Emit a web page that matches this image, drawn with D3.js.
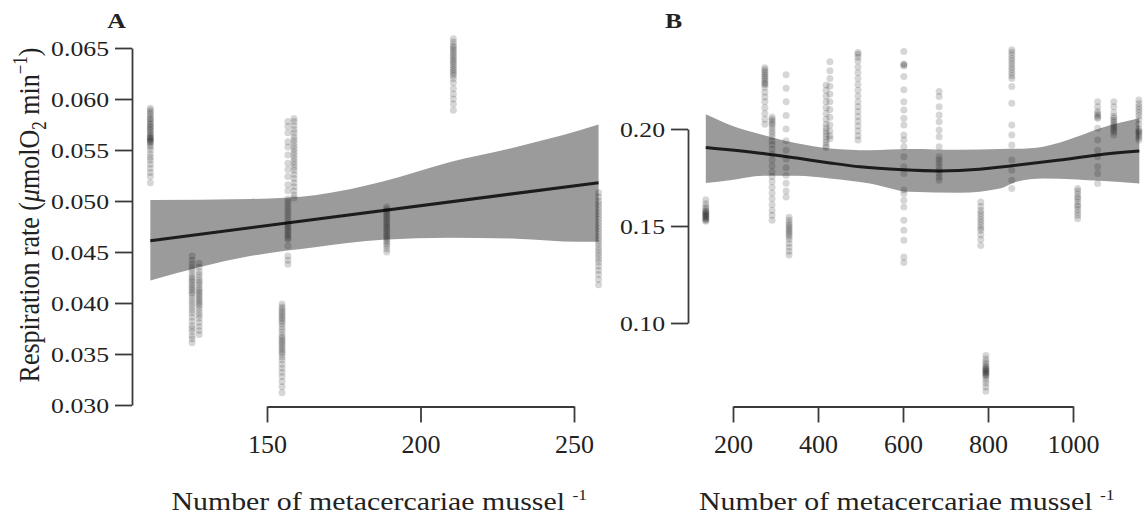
<!DOCTYPE html>
<html>
<head>
<meta charset="utf-8">
<script src="https://cdn.jsdelivr.net/npm/d3@7"></script>
<style>
  body { margin: 0; background: #fff; }
  text { font-family: "Liberation Serif", "Times New Roman", serif; fill: #222; }
</style>
</head>
<body>
<svg id="chart" width="1147" height="522"></svg>
<script>
// ---------- Panel A: respiration vs. metacercariae (linear fit) ----------
const aTicksY = [0.030, 0.035, 0.040, 0.045, 0.050, 0.055, 0.060, 0.065];
const aTicksX = [150, 200, 250];
const aGroupX = [112, 125.6, 127.9, 154.9, 156.8, 158.8, 189, 210.7, 258];
const aGroupY = [
  [0.0591,0.0589,0.0587,0.0585,0.0583,0.0581,0.0580,0.0578,0.0576,0.0575,0.0573,0.0572,0.0570,0.0569,0.0567,0.0566,0.0564,0.0563,0.0562,0.0561,0.0560,0.0559,0.0558,0.0557,0.0555,0.0553,0.0550,0.0546,0.0543,0.0540,0.0536,0.0532,0.0528,0.0524,0.0518],
  [0.0446,0.0442,0.0438,0.0435,0.0432,0.0429,0.0426,0.0424,0.0422,0.0420,0.0418,0.0416,0.0414,0.0412,0.0410,0.0408,0.0405,0.0402,0.0399,0.0396,0.0393,0.0390,0.0386,0.0382,0.0378,0.0375,0.0372,0.0368,0.0365,0.0361],
  [0.0439,0.0435,0.0431,0.0428,0.0425,0.0422,0.0420,0.0418,0.0415,0.0413,0.0411,0.0409,0.0407,0.0405,0.0403,0.0401,0.0399,0.0397,0.0394,0.0391,0.0388,0.0385,0.0381,0.0377,0.0373,0.0369],
  [0.0399,0.0396,0.0394,0.0392,0.0390,0.0388,0.0386,0.0384,0.0382,0.0380,0.0377,0.0374,0.0371,0.0368,0.0366,0.0364,0.0362,0.0360,0.0358,0.0356,0.0354,0.0352,0.0350,0.0347,0.0344,0.0340,0.0336,0.0332,0.0328,0.0323,0.0318,0.0312],
  [0.0578,0.0573,0.0567,0.0558,0.0553,0.0545,0.0537,0.0531,0.0524,0.0516,0.0510,0.0502,0.0499,0.0496,0.0493,0.0490,0.0487,0.0484,0.0481,0.0478,0.0476,0.0474,0.0472,0.0470,0.0468,0.0466,0.0464,0.0462,0.0456,0.0446,0.0442,0.0438],
  [0.0581,0.0578,0.0574,0.0570,0.0567,0.0563,0.0560,0.0557,0.0554,0.0551,0.0548,0.0545,0.0542,0.0539,0.0536,0.0533,0.0530,0.0526,0.0522,0.0518,0.0514,0.0510,0.0506,0.0503],
  [0.0494,0.0492,0.0490,0.0488,0.0486,0.0484,0.0482,0.0480,0.0478,0.0476,0.0474,0.0472,0.0470,0.0468,0.0466,0.0464,0.0462,0.0460,0.0458,0.0456,0.0453,0.0450],
  [0.0659,0.0656,0.0653,0.0651,0.0649,0.0647,0.0645,0.0643,0.0641,0.0639,0.0637,0.0635,0.0633,0.0631,0.0629,0.0627,0.0625,0.0623,0.0620,0.0616,0.0610,0.0605,0.0600,0.0595,0.0589],
  [0.0508,0.0504,0.0500,0.0497,0.0494,0.0491,0.0488,0.0485,0.0482,0.0479,0.0476,0.0473,0.0470,0.0467,0.0464,0.0461,0.0458,0.0455,0.0452,0.0449,0.0446,0.0443,0.0440,0.0436,0.0432,0.0428,0.0423,0.0418]
];
const aFitX = [112, 258];
const aFitY = [0.0461, 0.0518];
const aBandX  = [112,    144.5,  166.2,  187.7,  209.4,  231.2,  251.6,  258];
const aBandLo = [0.0422, 0.0446, 0.0455, 0.0462, 0.0464, 0.0463, 0.0460, 0.0460];
const aBandHi = [0.0501, 0.0502, 0.0506, 0.0519, 0.0538, 0.0553, 0.0569, 0.0575];

// ---------- Panel B: respiration vs. metacercariae (smooth fit) ----------
const bTicksY = [0.10, 0.15, 0.20];
const bTicksX = [200, 400, 600, 800, 1000];
const bGroupX = [136, 275, 292, 325, 332, 419, 428, 494, 602, 685, 783, 795, 856, 1011, 1058, 1096, 1155];
const bGroupY = [
  [0.1635,0.1615,0.1600,0.1590,0.1580,0.1575,0.1570,0.1565,0.1560,0.1555,0.1550,0.1545,0.1540,0.1535,0.1530,0.1525],
  [0.2316,0.2305,0.2295,0.2285,0.2275,0.2265,0.2255,0.2245,0.2235,0.2230,0.2215,0.2190,0.2165,0.2140,0.2110,0.2080,0.2050,0.2025],
  [0.2062,0.2050,0.2040,0.2030,0.2020,0.2005,0.1990,0.1975,0.1960,0.1940,0.1920,0.1895,0.1870,0.1840,0.1810,0.1780,0.1755,0.1730,0.1700,0.1670,0.1640,0.1610,0.1580,0.1555,0.1530],
  [0.2279,0.2210,0.2140,0.2070,0.2000,0.1940,0.1890,0.1845,0.1800,0.1760,0.1720,0.1680,0.1650],
  [0.1545,0.1530,0.1515,0.1505,0.1495,0.1485,0.1475,0.1465,0.1455,0.1445,0.1430,0.1410,0.1390,0.1370,0.1350],
  [0.2227,0.2200,0.2170,0.2140,0.2110,0.2080,0.2050,0.2025,0.2005,0.1990,0.1975,0.1960,0.1945,0.1930,0.1915,0.1905],
  [0.2347,0.2300,0.2260,0.2220,0.2180,0.2140,0.2100,0.2060,0.2020,0.1990,0.1965,0.1950],
  [0.2394,0.2385,0.2370,0.2350,0.2320,0.2290,0.2260,0.2230,0.2200,0.2170,0.2140,0.2115,0.2090,0.2065,0.2040,0.2015,0.1990,0.1965,0.1943],
  [0.2400,0.2335,0.2331,0.2325,0.2270,0.2202,0.2141,0.2098,0.2055,0.2021,0.1969,0.1943,0.1908,0.1857,0.1805,0.1771,0.1685,0.1668,0.1633,0.1598,0.1530,0.1478,0.1426,0.1340,0.1312],
  [0.2193,0.2167,0.2115,0.2072,0.2038,0.1995,0.1960,0.1908,0.1857,0.1840,0.1823,0.1805,0.1788,0.1771,0.1753,0.1736],
  [0.1624,0.1600,0.1580,0.1566,0.1550,0.1535,0.1520,0.1505,0.1490,0.1478,0.1455,0.1430,0.1400],
  [0.0832,0.0815,0.0800,0.0790,0.0780,0.0770,0.0765,0.0760,0.0755,0.0750,0.0745,0.0740,0.0735,0.0730,0.0720,0.0705,0.0690,0.0670,0.0648],
  [0.2408,0.2395,0.2380,0.2365,0.2350,0.2335,0.2320,0.2305,0.2290,0.2275,0.2260,0.2219,0.2133,0.2021,0.1969,0.1917,0.1840,0.1788,0.1736,0.1693],
  [0.1693,0.1680,0.1665,0.1650,0.1640,0.1625,0.1610,0.1600,0.1585,0.1570,0.1555,0.1538],
  [0.2141,0.2115,0.2090,0.2080,0.2070,0.2060,0.2055,0.2004,0.1943,0.1891,0.1857,0.1805,0.1771,0.1719],
  [0.2141,0.2115,0.2085,0.2065,0.2055,0.2045,0.2035,0.2025,0.2015,0.2005,0.1995,0.1985,0.1969],
  [0.2150,0.2130,0.2115,0.2100,0.2085,0.2070,0.2050,0.2025,0.2000,0.1990,0.1985,0.1975,0.1965,0.1955,0.1943]
];
const bFitX = [136,    271,    350,    428,    499,    600,    685,    780,    856,    969,    1058,   1156];
const bFitY = [0.1905, 0.1874, 0.1850, 0.1825, 0.1805, 0.1790, 0.1784, 0.1792, 0.1810, 0.1840, 0.1866, 0.1886];
const bBandX  = [136,    193,    271,    350,    428,    522,    616,    734,    828,    867,    930,    1009,   1064,   1156];
const bBandLo = [0.1722, 0.1736, 0.1759, 0.1759, 0.1745, 0.1719, 0.1676, 0.1671, 0.1693, 0.1728, 0.1745, 0.1740, 0.1733, 0.1719];
const bBandHi = [0.2076, 0.2021, 0.1969, 0.1926, 0.1900, 0.1891, 0.1897, 0.1893, 0.1897, 0.1898, 0.1909, 0.1960, 0.2004, 0.2055];

// ---------- drawing ----------
const svg = d3.select('#chart');
const STRETCH = 1.17;            // horizontal widening of the lettering
const axisColor = '#3a3a3a';

function styleAxis(g) {
  g.attr('font-family', null);
  g.select('.domain').attr('stroke', axisColor).attr('stroke-width', 1.8);
  g.selectAll('.tick line').attr('stroke', axisColor).attr('stroke-width', 1.8);
  g.selectAll('.tick text').attr('fill', '#222');
}

function leftAxis(scale, ticks, fmt, x) {
  const g = svg.append('g').attr('transform', `translate(${x},0)`)
    .call(d3.axisLeft(scale).tickValues(ticks).tickFormat(d3.format(fmt))
      .tickSizeInner(17).tickSizeOuter(0).tickPadding(6));
  styleAxis(g);
  g.selectAll('.tick text')
    .attr('font-size', 22)
    .attr('x', 0).attr('dy', '0.34em')
    .attr('transform', `translate(-23,0) scale(${STRETCH},1)`);
  return g;
}

function bottomAxis(scale, ticks, y) {
  const g = svg.append('g').attr('transform', `translate(0,${y})`)
    .call(d3.axisBottom(scale).tickValues(ticks).tickFormat(d3.format('d'))
      .tickSizeInner(16).tickSizeOuter(0).tickPadding(12));
  styleAxis(g);
  g.selectAll('.tick text').attr('font-size', 26).attr('dy', '0.71em');
  return g;
}

function drawPanel(p) {
  const area = d3.area()
    .x((d, i) => p.x(p.bandX[i]))
    .y0((d, i) => p.y(p.bandLo[i]))
    .y1((d, i) => p.y(p.bandHi[i]))
    .curve(d3.curveMonotoneX);
  svg.append('path').datum(p.bandX).attr('d', area)
    .attr('fill', '#9b9b9b').attr('stroke', 'none');

  const line = d3.line()
    .x((d, i) => p.x(p.fitX[i]))
    .y((d, i) => p.y(p.fitY[i]))
    .curve(d3.curveMonotoneX);
  svg.append('path').datum(p.fitX).attr('d', line)
    .attr('fill', 'none').attr('stroke', '#1c1c1c').attr('stroke-width', 3);

  const pts = [];
  p.groupX.forEach((gx, gi) => p.groupY[gi].forEach(v => pts.push([gx, v])));
  svg.append('g').selectAll('circle').data(pts).join('circle')
    .attr('cx', d => p.x(d[0])).attr('cy', d => p.y(d[1])).attr('r', 3.5)
    .attr('fill', '#000').attr('fill-opacity', 0.16);
}

function label(x, y, opts) {
  return svg.append('text')
    .attr('transform', `translate(${x},${y}) ${opts.rotate ? `scale(${STRETCH},1) rotate(-90)` : `scale(${opts.k || STRETCH},1)`}`)
    .attr('font-size', opts.size)
    .attr('text-anchor', opts.anchor || 'start')
    .attr('font-weight', opts.bold ? 'bold' : null);
}

function xTitle(x) {
  const t = label(x, 510, { size: 25.5 });
  t.append('tspan').text('Number of metacercariae mussel ');
  t.append('tspan').attr('font-size', 15).attr('dy', -10).text('-1');
}

// Panel A
const xA = d3.scaleLinear().domain([150, 250]).range([267, 574]);
const yA = d3.scaleLinear().domain([0.030, 0.065]).range([405, 48]);
drawPanel({ x: xA, y: yA, groupX: aGroupX, groupY: aGroupY, fitX: aFitX, fitY: aFitY,
            bandX: aBandX, bandLo: aBandLo, bandHi: aBandHi });
leftAxis(yA, aTicksY, '.3f', 132);
bottomAxis(xA, aTicksX, 406.5);

// Panel B
const xB = d3.scaleLinear().domain([200, 1000]).range([733, 1073]);
const yB = d3.scaleLinear().domain([0.10, 0.20]).range([323, 129]);
drawPanel({ x: xB, y: yB, groupX: bGroupX, groupY: bGroupY, fitX: bFitX, fitY: bFitY,
            bandX: bBandX, bandLo: bBandLo, bandHi: bBandHi });
leftAxis(yB, bTicksY, '.2f', 688);
bottomAxis(xB, bTicksX, 406.5);

// Panel letters
label(116.5, 28, { size: 22, anchor: 'middle', bold: true }).text('A');
label(673.5, 28, { size: 22, anchor: 'middle', bold: true }).text('B');

// Axis titles
xTitle(171.5);
xTitle(699);

const yt = label(38.5, 215, { size: 26, rotate: true, anchor: 'middle' });
yt.append('tspan').text('Respiration rate (');
yt.append('tspan').attr('font-style', 'italic').text('\u03bc');
yt.append('tspan').text('molO');
yt.append('tspan').attr('font-size', 17).attr('dy', 6).text('2');
yt.append('tspan').attr('dy', -6).text(' min');
yt.append('tspan').attr('font-size', 17).attr('dy', -10).text('\u22121');
yt.append('tspan').attr('dy', 10).text(')');
</script>
</body>
</html>
